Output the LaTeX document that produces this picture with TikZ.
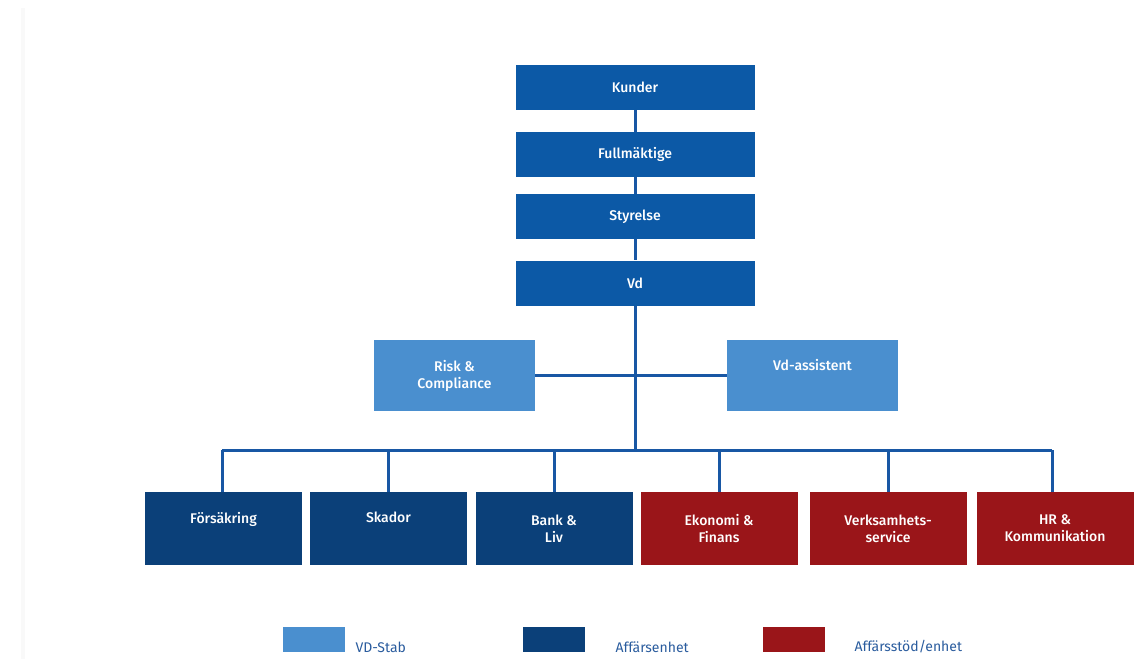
\documentclass[tikz,border=0pt]{standalone}
\usepackage{fontspec}
\setmainfont{Fira Sans}
\newfontfamily\boxfont{Fira Sans Medium}
\begin{document}
\begin{tikzpicture}[x=1pt,y=-1pt,
  box/.style={draw=none,minimum width=#1,inner sep=0pt,text=white,align=center,font=\boxfont\fontsize{14}{17}\selectfont},
  topbox/.style={box=239pt,fill=cTop,minimum height=45pt},
  stab/.style={box=#1,fill=cStab,minimum height=71pt},
  unit/.style={box=157pt,fill=cUnit,minimum height=73pt},
  support/.style={box=157pt,fill=cSup,minimum height=73pt},
  link/.style={draw=cLine,line width=3pt},
  swatch/.style={minimum width=62pt,minimum height=25pt,inner sep=0pt},
  legtext/.style={text=cLeg,anchor=west,font=\fontsize{14}{17}\selectfont}
]
\definecolor{cTop}{HTML}{0C59A6}
\definecolor{cStab}{HTML}{4A8FCF}
\definecolor{cUnit}{HTML}{0B4079}
\definecolor{cSup}{HTML}{9A1519}
\definecolor{cLine}{HTML}{1857A4}
\definecolor{cLeg}{HTML}{2A5C9E}
\useasboundingbox[fill=white] (0,0) rectangle (1134,659);
\fill[gray!5] (21,8) rectangle (25,659);

\coordinate (vdbus) at (635,450);
\coordinate (busL) at (222,450);
\coordinate (busR) at (1052,450);

\node[topbox] (kunder) at (635,87) {Kunder};
\node[topbox] (full) at (635,154.5) {Fullmäktige};
\node[topbox] (styr) at (635,216.5) {Styrelse};
\node[topbox] (vd) at (635,283) {Vd};

\node[stab=161pt] (risk) at (454.5,375.5) {Risk \&\\Compliance};
\node[stab=171pt] (vdass) at (812.5,375.5) {Vd-assistent\\\strut};

\node[unit] (fors) at (223.5,528.5) {Försäkring\\\strut};
\node[unit] (skad) at (388.5,528.5) {Skador\\\strut};
\node[unit] (bank) at (554,528.5) {Bank \&\\Liv};
\node[support] (eko) at (719,528.5) {Ekonomi \&\\Finans};
\node[support] (verk) at (888,528.5) {Verksamhets-\\service};
\node[support] (hr) at (1055,528.5) {HR \&\\Kommunikation};

\draw[link] (kunder.south) -- (full.north);
\draw[link] (full.south) -- (styr.north);
\draw[link] (styr.south) -- (vd.north);
\draw[link] (vd.south) -- (vdbus);
\draw[link] (risk.east) -- (vdass.west);
\draw[link] (busL) -- (busR);
\draw[link] (busL) -- (fors.north -| busL);
\draw[link] (skad.north |- vdbus) -- (skad.north);
\draw[link] (bank.north |- vdbus) -- (bank.north);
\draw[link] (eko.north |- vdbus) -- (eko.north);
\draw[link] (verk.north |- vdbus) -- (verk.north);
\draw[link] (busR) -- (busR |- hr.north);

% legend
\node[swatch,fill=cStab] (sw1) at (314,639.5) {};
\node[legtext] (l1) at (352,647) {VD-Stab};
\node[swatch,fill=cUnit] (sw2) at (554,639.5) {};
\node[legtext] (l2) at (612,647) {Affärsenhet};
\node[swatch,fill=cSup] (sw3) at (794,639.5) {};
\node[legtext] (l3) at (851,647) {Affärsstöd/enhet};
\end{tikzpicture}
\end{document}
